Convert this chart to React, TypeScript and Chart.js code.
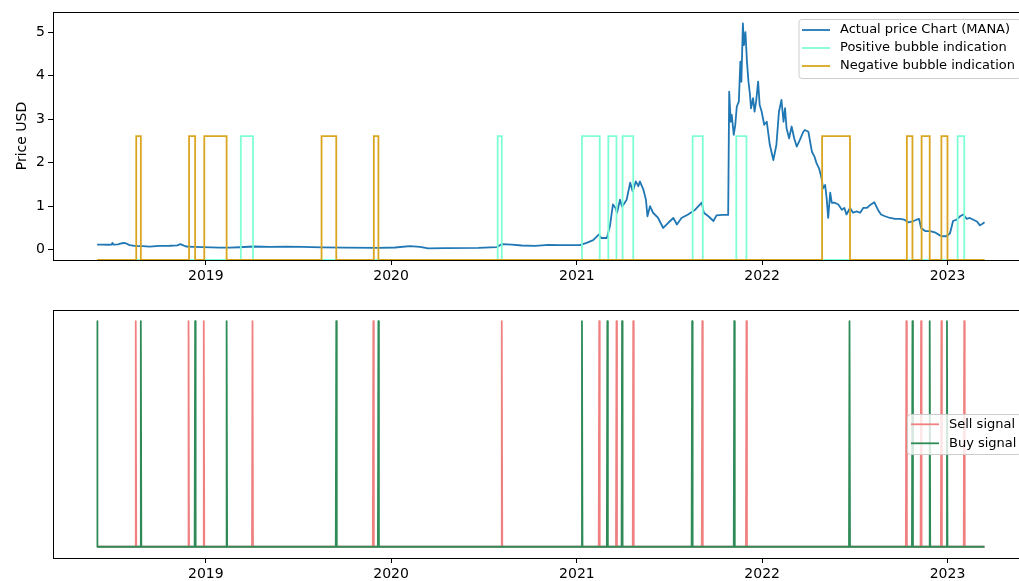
import React, { useEffect, useRef } from 'react';
import { Chart, registerables } from 'chart.js';

Chart.register(...registerables);

// ---------- data ----------
const priceDates = [
  '2018-06-01', '2018-06-12', '2018-06-22', '2018-06-30', '2018-07-01', '2018-07-03', '2018-07-12', '2018-07-20',
  '2018-07-26', '2018-08-04', '2018-08-17', '2018-08-30', '2018-09-12', '2018-10-02', '2018-10-22', '2018-11-06',
  '2018-11-12', '2018-11-23', '2018-12-07', '2018-12-26', '2019-01-28', '2019-02-17', '2019-03-09', '2019-04-04',
  '2019-05-07', '2019-06-08', '2019-07-11', '2019-08-17', '2019-10-02', '2019-12-07', '2020-01-09', '2020-02-07',
  '2020-02-27', '2020-03-14', '2020-04-16', '2020-06-21', '2020-07-27', '2020-08-06', '2020-08-26', '2020-09-14',
  '2020-10-11', '2020-11-06', '2020-12-01', '2021-01-07', '2021-01-20', '2021-02-02', '2021-02-13', '2021-02-18',
  '2021-03-01', '2021-03-07', '2021-03-13', '2021-03-18', '2021-03-21', '2021-03-27', '2021-03-31', '2021-04-09',
  '2021-04-16', '2021-04-21', '2021-04-27', '2021-05-02', '2021-05-05', '2021-05-12', '2021-05-17', '2021-05-20',
  '2021-05-25', '2021-05-31', '2021-06-10', '2021-06-20', '2021-06-30', '2021-07-10', '2021-07-17', '2021-07-26',
  '2021-08-08', '2021-08-22', '2021-09-04', '2021-09-08', '2021-09-17', '2021-09-27', '2021-10-03', '2021-10-14',
  '2021-10-26', '2021-10-28', '2021-10-31', '2021-11-02', '2021-11-06', '2021-11-09', '2021-11-12', '2021-11-16',
  '2021-11-19', '2021-11-21', '2021-11-24', '2021-11-26', '2021-11-29', '2021-12-02', '2021-12-05', '2021-12-08',
  '2021-12-10', '2021-12-14', '2021-12-17', '2021-12-20', '2021-12-24', '2021-12-27', '2021-12-31', '2022-01-05',
  '2022-01-10', '2022-01-16', '2022-01-23', '2022-01-29', '2022-02-03', '2022-02-08', '2022-02-12', '2022-02-15',
  '2022-02-18', '2022-02-23', '2022-02-28', '2022-03-05', '2022-03-10', '2022-03-16', '2022-03-23', '2022-03-26',
  '2022-04-02', '2022-04-09', '2022-04-14', '2022-04-18', '2022-04-23', '2022-04-28', '2022-05-01', '2022-05-05',
  '2022-05-08', '2022-05-11', '2022-05-15', '2022-05-18', '2022-05-24', '2022-05-31', '2022-06-07', '2022-06-12',
  '2022-06-16', '2022-06-23', '2022-06-29', '2022-07-06', '2022-07-13', '2022-07-19', '2022-07-26', '2022-08-01',
  '2022-08-10', '2022-08-17', '2022-08-23', '2022-08-31', '2022-09-10', '2022-09-20', '2022-09-29', '2022-10-08',
  '2022-10-16', '2022-10-24', '2022-11-01', '2022-11-06', '2022-11-10', '2022-11-18', '2022-11-28', '2022-12-07',
  '2022-12-17', '2022-12-24', '2022-12-30', '2023-01-06', '2023-01-12', '2023-01-19', '2023-01-26', '2023-02-01',
  '2023-02-08', '2023-02-14', '2023-02-21', '2023-02-28', '2023-03-06', '2023-03-11', '2023-03-15',
];
const priceValues = [
  0.12, 0.118, 0.115, 0.12, 0.16, 0.118, 0.125, 0.15,
  0.155, 0.108, 0.085, 0.085, 0.07, 0.09, 0.092, 0.1,
  0.13, 0.075, 0.068, 0.062, 0.048, 0.047, 0.058, 0.075,
  0.068, 0.072, 0.066, 0.055, 0.05, 0.045, 0.052, 0.085,
  0.068, 0.032, 0.038, 0.045, 0.06, 0.13, 0.12, 0.098,
  0.09, 0.11, 0.105, 0.105, 0.16, 0.22, 0.35, 0.27,
  0.27, 0.54, 1.04, 0.96, 0.85, 1.15, 0.99, 1.15,
  1.54, 1.34, 1.57, 1.46, 1.57, 1.38, 1.15, 0.77,
  1.0, 0.85, 0.73, 0.5, 0.62, 0.73, 0.58, 0.73,
  0.81, 0.92, 1.08, 0.85, 0.77, 0.66, 0.79, 0.8,
  0.8, 3.63, 2.94, 3.1, 2.64, 2.87, 3.29, 3.4,
  4.32, 3.86, 5.2, 4.7, 5.0, 4.32, 3.86, 3.56,
  3.25, 3.48, 3.17, 3.4, 3.86, 3.33, 3.17, 2.87,
  2.94, 2.41, 2.06, 2.41, 3.17, 3.44, 2.94, 3.25,
  2.79, 2.56, 2.83, 2.56, 2.37, 2.52, 2.71, 2.75,
  2.71, 2.25, 2.14, 1.99, 1.87, 1.64, 1.41, 1.49,
  1.18, 0.73, 1.31, 1.08, 1.08, 1.04, 0.92, 0.96,
  0.81, 0.96, 0.85, 0.88, 0.85, 0.96, 0.96, 1.02,
  1.09, 0.92, 0.81, 0.77, 0.73, 0.71, 0.71, 0.69,
  0.63, 0.65, 0.69, 0.71, 0.5, 0.43, 0.43, 0.4,
  0.33, 0.31, 0.31, 0.38, 0.66, 0.69, 0.77, 0.81,
  0.71, 0.73, 0.69, 0.65, 0.56, 0.6, 0.63,
];

const positiveStarts = ['2019-03-11', '2020-07-29', '2021-01-11', '2021-03-04', '2021-04-01', '2021-08-17', '2021-11-11', '2023-01-21'];
const positiveEnds = ['2019-04-04', '2020-08-06', '2021-02-15', '2021-03-20', '2021-04-22', '2021-09-06', '2021-12-01', '2023-02-03'];
const negativeStarts = ['2018-08-17', '2018-11-29', '2018-12-29', '2019-08-17', '2019-11-28', '2022-04-29', '2022-10-13', '2022-11-11', '2022-12-20'];
const negativeEnds = ['2018-08-26', '2018-12-11', '2019-02-11', '2019-09-15', '2019-12-07', '2022-06-23', '2022-10-24', '2022-11-27', '2023-01-01'];
const bubbleHigh = 2.61;

const sellDates = [
  '2018-08-16', '2018-11-28', '2018-12-28', '2019-04-03', '2019-11-27', '2020-08-06', '2021-02-14', '2021-03-20',
  '2021-04-22', '2021-09-05', '2021-12-01', '2022-10-12', '2022-11-10', '2022-12-20', '2023-02-03',
];
const buyDates = [
  '2018-06-01', '2018-08-26', '2018-12-11', '2019-02-11', '2019-09-15', '2019-12-07', '2021-01-11', '2021-03-02',
  '2021-03-31', '2021-08-16', '2021-11-07', '2022-06-22', '2022-10-24', '2022-11-27', '2022-12-31',
];

const yearTickDates = ['2019-01-01', '2020-01-01', '2021-01-01', '2022-01-01', '2023-01-01'];
const yearTickLabels = ['2019', '2020', '2021', '2022', '2023'];
const priceTicks = [0, 1, 2, 3, 4, 5];

const xAxisMin = '2018-03-06';
const xAxisMax = '2023-06-10';
const priceAxisMin = -0.235;
const priceAxisMax = 5.46;

const labels = {
  price: 'Actual price Chart (MANA)',
  positive: 'Positive bubble indication',
  negative: 'Negative bubble indication',
  sell: 'Sell signal',
  buy: 'Buy signal',
  yTitle: 'Price USD',
};

// ---------- helpers ----------
const DAY = 86400000;
const t = (s: string) => Date.parse(s + 'T00:00:00Z');
const FONT = '"DejaVu Sans", sans-serif';
const LINE_W = 1.8;

function bubblePoints(starts: string[], ends: string[], low: number, high: number) {
  const pts: { x: number; y: number }[] = [{ x: t(priceDates[0]), y: low }];
  starts.forEach((s, i) => {
    pts.push({ x: t(s), y: low }, { x: t(s), y: high }, { x: t(ends[i]), y: high }, { x: t(ends[i]), y: low });
  });
  pts.push({ x: t(priceDates[priceDates.length - 1]), y: low });
  return pts;
}

function signalPoints(dates: string[]) {
  const start = t(priceDates[0]);
  const end = t(priceDates[priceDates.length - 1]);
  const pts: { x: number; y: number }[] = [{ x: start, y: 0 }];
  dates.map(t).sort((a, b) => a - b).forEach((d) => {
    if (d - DAY > start) pts.push({ x: d - DAY, y: 0 });
    pts.push({ x: d, y: 1 }, { x: d + DAY, y: 0 });
  });
  pts.push({ x: end, y: 0 });
  return pts;
}

type LegendCfg = { box: [number, number, number, number]; handle: [number, number]; textX: number; rows: number[] };

function makeDecorPlugin(legend: LegendCfg) {
  return {
    id: 'decor',
    afterDraw(chart: any) {
      const { ctx, chartArea } = chart;
      const l = Math.floor(chartArea.left) + 0.5;
      const tp = Math.floor(chartArea.top) + 0.5;
      const r = Math.floor(chartArea.right) + 0.5;
      const b = Math.floor(chartArea.bottom) + 0.5;
      ctx.save();
      ctx.strokeStyle = '#000';
      ctx.lineWidth = 1;
      ctx.strokeRect(l, tp, r - l, b - tp);

      const [x0, y0, x1, y1] = legend.box;
      const rad = 3;
      ctx.beginPath();
      ctx.moveTo(x0 + rad, y0);
      ctx.lineTo(x1 - rad, y0);
      ctx.arcTo(x1, y0, x1, y0 + rad, rad);
      ctx.lineTo(x1, y1 - rad);
      ctx.arcTo(x1, y1, x1 - rad, y1, rad);
      ctx.lineTo(x0 + rad, y1);
      ctx.arcTo(x0, y1, x0, y1 - rad, rad);
      ctx.lineTo(x0, y0 + rad);
      ctx.arcTo(x0, y0, x0 + rad, y0, rad);
      ctx.closePath();
      ctx.fillStyle = 'rgba(255,255,255,0.8)';
      ctx.fill();
      ctx.strokeStyle = '#cccccc';
      ctx.stroke();

      chart.data.datasets.forEach((ds: any, i: number) => {
        const y = legend.rows[i];
        ctx.strokeStyle = ds.borderColor;
        ctx.lineWidth = LINE_W;
        ctx.beginPath();
        ctx.moveTo(legend.handle[0], y);
        ctx.lineTo(legend.handle[1], y);
        ctx.stroke();
        ctx.fillStyle = '#000';
        ctx.font = '13px ' + FONT;
        ctx.textBaseline = 'middle';
        ctx.textAlign = 'left';
        ctx.fillText(ds.label, legend.textX, y);
      });
      ctx.restore();
    },
  };
}

function xScale(height: number) {
  return {
    type: 'linear' as const,
    min: t(xAxisMin),
    max: t(xAxisMax),
    afterBuildTicks: (scale: any) => {
      scale.ticks = yearTickDates.map((d) => ({ value: t(d) }));
    },
    afterFit: (scale: any) => {
      scale.height = height;
    },
    ticks: {
      autoSkip: false,
      maxRotation: 0,
      padding: 3,
      color: '#000',
      font: { family: FONT, size: 14 },
      callback: (value: number) => {
        const i = yearTickDates.findIndex((d) => t(d) === value);
        return i >= 0 ? yearTickLabels[i] : '';
      },
    },
    grid: { drawOnChartArea: false, drawTicks: true, tickLength: 5, color: '#000', lineWidth: 1 },
    border: { display: false },
  };
}

export default function App() {
  const topRef = useRef<HTMLCanvasElement>(null);
  const botRef = useRef<HTMLCanvasElement>(null);

  useEffect(() => {
    const lineBase = { pointRadius: 0, borderWidth: LINE_W, tension: 0, fill: false, borderJoinStyle: 'round' as const };

    const top = new Chart(topRef.current!, {
      type: 'line',
      data: {
        datasets: [
          { ...lineBase, label: labels.price, data: priceDates.map((d, i) => ({ x: t(d), y: priceValues[i] })), borderColor: '#1f77b4', order: 3 },
          { ...lineBase, label: labels.positive, data: bubblePoints(positiveStarts, positiveEnds, priceAxisMin, bubbleHigh), borderColor: '#7fffd4', order: 2, borderJoinStyle: 'miter' },
          { ...lineBase, label: labels.negative, data: bubblePoints(negativeStarts, negativeEnds, priceAxisMin, bubbleHigh), borderColor: '#daa520', order: 1, borderJoinStyle: 'miter' },
        ],
      },
      options: {
        responsive: false,
        animation: false,
        devicePixelRatio: 1,
        parsing: false,
        layout: { padding: { top: 12, right: 11.3, left: 0, bottom: 0 } },
        plugins: { legend: { display: false }, tooltip: { enabled: false } },
        scales: {
          x: xScale(30),
          y: {
            type: 'linear',
            min: priceAxisMin,
            max: priceAxisMax,
            afterBuildTicks: (scale: any) => {
              scale.ticks = priceTicks.map((v) => ({ value: v }));
            },
            afterFit: (scale: any) => {
              scale.width = 53;
            },
            ticks: { padding: 3, color: '#000', font: { family: FONT, size: 14 } },
            grid: { drawOnChartArea: false, drawTicks: true, tickLength: 5, color: '#000', lineWidth: 1 },
            border: { display: false },
            title: { display: true, text: labels.yTitle, color: '#000', font: { family: FONT, size: 14 }, padding: { top: 13.6, bottom: 0 } },
          },
        },
      },
      plugins: [makeDecorPlugin({ box: [799, 19.5, 1021, 78.5], handle: [802, 830], textX: 840, rows: [30, 48, 66] })],
    } as any);

    const bot = new Chart(botRef.current!, {
      type: 'line',
      data: {
        datasets: [
          { ...lineBase, label: labels.sell, data: signalPoints(sellDates), borderColor: '#f08080', order: 2 },
          { ...lineBase, label: labels.buy, data: signalPoints(buyDates), borderColor: '#2e8b57', order: 1 },
        ],
      },
      options: {
        responsive: false,
        animation: false,
        devicePixelRatio: 1,
        parsing: false,
        layout: { padding: { top: 20, right: 11.3, left: 53, bottom: 0 } },
        plugins: { legend: { display: false }, tooltip: { enabled: false } },
        scales: {
          x: xScale(23),
          y: { type: 'linear', display: false, min: -0.05, max: 1.05 },
        },
      },
      plugins: [makeDecorPlugin({ box: [907.5, 124.5, 1021, 164.5], handle: [911, 939], textX: 949, rows: [134.3, 153.3] })],
    } as any);

    return () => {
      top.destroy();
      bot.destroy();
    };
  }, []);

  return (
    <div style={{ position: 'fixed', left: 0, top: 0, width: 1019, height: 581, overflow: 'hidden', background: '#fff' }}>
      <canvas ref={topRef} width={1040} height={290} style={{ position: 'absolute', left: 0, top: 0, width: 1040, height: 290 }} />
      <canvas ref={botRef} width={1040} height={291} style={{ position: 'absolute', left: 0, top: 290, width: 1040, height: 291 }} />
    </div>
  );
}
